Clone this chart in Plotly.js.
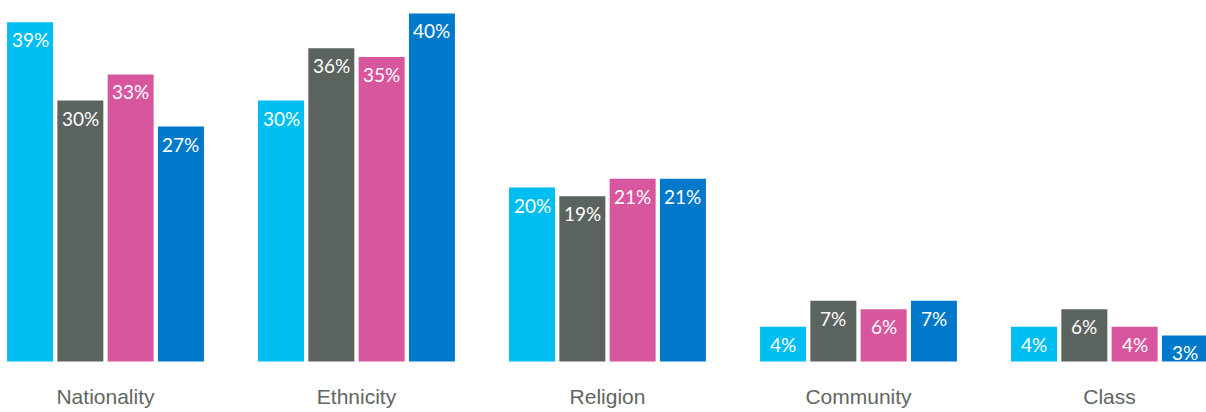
<!DOCTYPE html>
<html>
<head>
<meta charset="utf-8">
<script src="https://cdn.plot.ly/plotly-3.0.1.min.js"></script>
<style>html,body{margin:0;padding:0;background:#fff;}#chart{width:1206px;height:412px;}</style>
</head>
<body>
<div id="chart"></div>
<script>
const categories = ["Nationality", "Ethnicity", "Religion", "Community", "Class"];
const seriesA = [39, 30, 20, 4, 4];
const seriesB = [30, 36, 19, 7, 6];
const seriesC = [33, 35, 21, 6, 4];
const seriesD = [27, 40, 21, 7, 3];
const seriesNames = ["Series 1", "Series 2", "Series 3", "Series 4"];
const colors = ["#00BEF2", "#5B635E", "#D8569E", "#0079CA"];

const allSeries = [seriesA, seriesB, seriesC, seriesD];
const traces = allSeries.map((vals, i) => ({
  type: "bar",
  name: seriesNames[i],
  x: categories,
  y: vals,
  marker: {color: colors[i]},
  hoverinfo: "none",
  cliponaxis: false
}));

const pitch = 50.3;
const annotations = [];
allSeries.forEach((vals, i) => {
  vals.forEach((v, j) => {
    annotations.push({
      x: categories[j], y: v, xref: "x", yref: "y",
      text: v + "%", showarrow: false,
      xanchor: "center", yanchor: "top",
      xshift: (i - 1.5) * pitch, yshift: -4,
      font: {family: "Lato, 'Open Sans', sans-serif", size: 19, color: "#ffffff"}
    });
  });
});

const layout = {
  width: 1206, height: 412,
  margin: {l: 0, r: 0, t: 0, b: 0},
  paper_bgcolor: "#ffffff", plot_bgcolor: "#ffffff",
  showlegend: false,
  barmode: "group",
  bargap: 0.1984,
  bargroupgap: 0.0855,
  xaxis: {
    type: "category",
    range: [-0.4203, 4.3845],
    anchor: "free", position: 0.1226,
    showgrid: false, zeroline: false, showline: false,
    ticks: "", ticklabelstandoff: 21,
    tickfont: {family: "'Liberation Sans', Arial, sans-serif", size: 21, color: "#5f6661"}
  },
  yaxis: {
    range: [-5.80, 41.55],
    showgrid: false, zeroline: false, showline: false,
    showticklabels: false, ticks: ""
  },
  annotations: annotations
};

Plotly.newPlot("chart", traces, layout, {displayModeBar: false, staticPlot: true});
</script>
</body>
</html>
